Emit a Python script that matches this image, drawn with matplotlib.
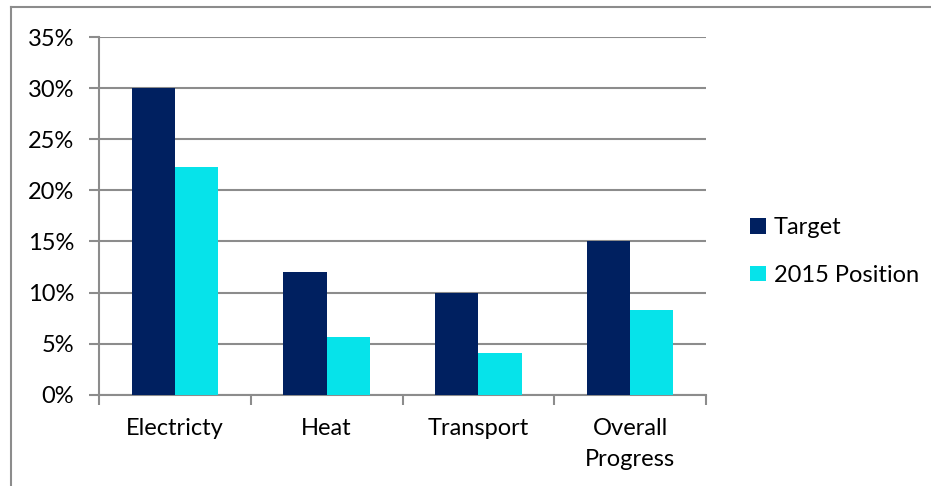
import matplotlib
matplotlib.use("Agg")
from matplotlib import pyplot as plt
from matplotlib.lines import Line2D
from matplotlib.ticker import FuncFormatter
import numpy as np

categories = ["Electricty", "Heat", "Transport", "Overall\nProgress"]
target = [30, 12, 10, 15]
position_2015 = [22.3, 5.6, 4.1, 8.3]
series_names = ["Target", "2015 Position"]

plt.rcParams['font.family'] = ['Lato', 'DejaVu Sans']
fs = 17

fig = plt.figure(figsize=(9.31, 4.86), dpi=100)
ax = fig.add_axes([99/931, 1-394.5/486, (706-99)/931, (394.5-37.5)/486])

x = np.arange(len(categories))
w = 1/3.5  # excel gap width 150%
ax.bar(x - w, target, w, align='edge', color='#002060', label=series_names[0], zorder=3)
ax.bar(x, position_2015, w, align='edge', color='#06E3EA', label=series_names[1], zorder=3)

ax.set_xlim(-0.5, len(categories) - 0.5)
ax.set_ylim(0, 35)
ax.set_yticks(range(0, 36, 5))
ax.yaxis.set_major_formatter(FuncFormatter(lambda v, p: '%d%%' % v))
ax.grid(axis='y', color='#8c8c8c', linewidth=1.5, zorder=0)

# category ticks sit between the groups, labels in the middle
ax.set_xticks(np.arange(len(categories) + 1) - 0.5)
ax.set_xticklabels([])
ax.set_xticks(x, minor=True)
ax.set_xticklabels(categories, minor=True, linespacing=1.6)
ax.tick_params(axis='x', which='minor', length=0, pad=17, labelsize=fs)
ax.tick_params(axis='x', which='major', length=7, width=1.5, color='#8c8c8c')
ax.tick_params(axis='y', length=7, width=1.5, color='#8c8c8c', pad=11, labelsize=fs)

for s in ['top', 'right']:
    ax.spines[s].set_visible(False)
for s in ['left', 'bottom']:
    ax.spines[s].set_color('#8c8c8c')
    ax.spines[s].set_linewidth(1.5)

leg = fig.legend(loc='upper left', bbox_to_anchor=(729/931, 1-196/486), frameon=False,
                 fontsize=fs, handlelength=0.65, handleheight=0.65, handletextpad=0.35,
                 labelspacing=1.12)

# chart area border (only top and left visible in the crop)
fig.add_artist(Line2D([11/931, 11/931], [0, 1-7.5/486], transform=fig.transFigure,
                      color='#8c8c8c', linewidth=1.5))
fig.add_artist(Line2D([11/931, 1], [1-7.5/486, 1-7.5/486], transform=fig.transFigure,
                      color='#8c8c8c', linewidth=1.5))

plt.savefig('out.png')
